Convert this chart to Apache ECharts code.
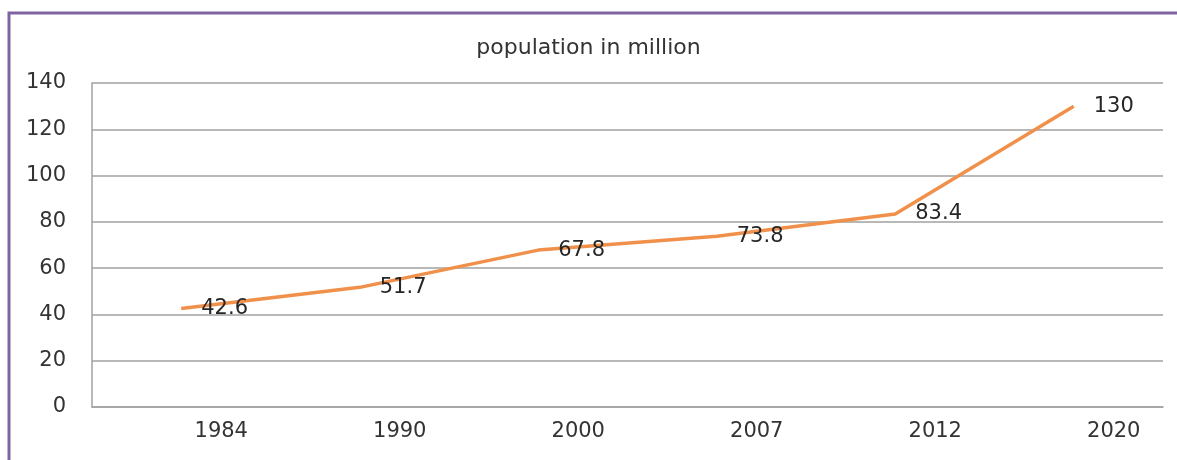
<!DOCTYPE html>
<html>
<head>
<meta charset="utf-8">
<script src="https://cdn.jsdelivr.net/npm/echarts@6/dist/echarts.min.js"></script>
<style>
html,body{margin:0;padding:0;background:#fff;}
#main{width:1177px;height:460px;}
</style>
</head>
<body>
<div id="main"></div>
<script>
const titleText = 'population in million';
const years = ['1984', '1990', '2000', '2007', '2012', '2020'];
const population = [42.6, 51.7, 67.8, 73.8, 83.4, 130];
const yMin = 0, yMax = 140, yStep = 20;

const chart = echarts.init(document.getElementById('main'));
const font = 'DejaVu Sans';
const textColor = '#333333';
chart.setOption({
  backgroundColor: '#ffffff',
  animation: false,
  graphic: [{
    type: 'rect',
    shape: { x: 9, y: 13, width: 1300, height: 600 },
    style: { fill: 'none', stroke: '#8064A2', lineWidth: 3 },
    silent: true
  }],
  title: {
    text: titleText,
    left: 'center',
    top: 32,
    textStyle: { fontFamily: font, fontSize: 22, fontWeight: 'normal', color: textColor }
  },
  grid: { left: 92, right: 14, top: 83, bottom: 53, containLabel: false },
  xAxis: {
    type: 'category',
    data: years,
    boundaryGap: true,
    axisLine: { show: true, lineStyle: { color: '#a0a0a0', width: 1.5 } },
    axisTick: { show: false },
    axisLabel: {
      fontFamily: font, fontSize: 21, color: textColor, margin: 14,
      padding: [0, 0, 0, 80]
    },
    splitLine: { show: false }
  },
  yAxis: {
    type: 'value',
    min: yMin, max: yMax, interval: yStep,
    axisLine: { show: true, lineStyle: { color: '#a0a0a0', width: 1.5 } },
    axisTick: { show: false },
    axisLabel: { fontFamily: font, fontSize: 21, color: textColor, margin: 26 },
    splitLine: { show: true, lineStyle: { color: '#a0a0a0', width: 1.5 } }
  },
  series: [{
    type: 'line',
    data: population,
    symbol: 'circle',
    symbolSize: 0,
    showSymbol: true,
    lineStyle: { color: '#F0904A', width: 3.5 },
    itemStyle: { color: '#F0904A' },
    label: {
      show: true,
      position: 'right',
      distance: 20,
      fontFamily: font,
      fontSize: 21,
      color: '#262626'
    }
  }]
});
</script>
</body>
</html>
